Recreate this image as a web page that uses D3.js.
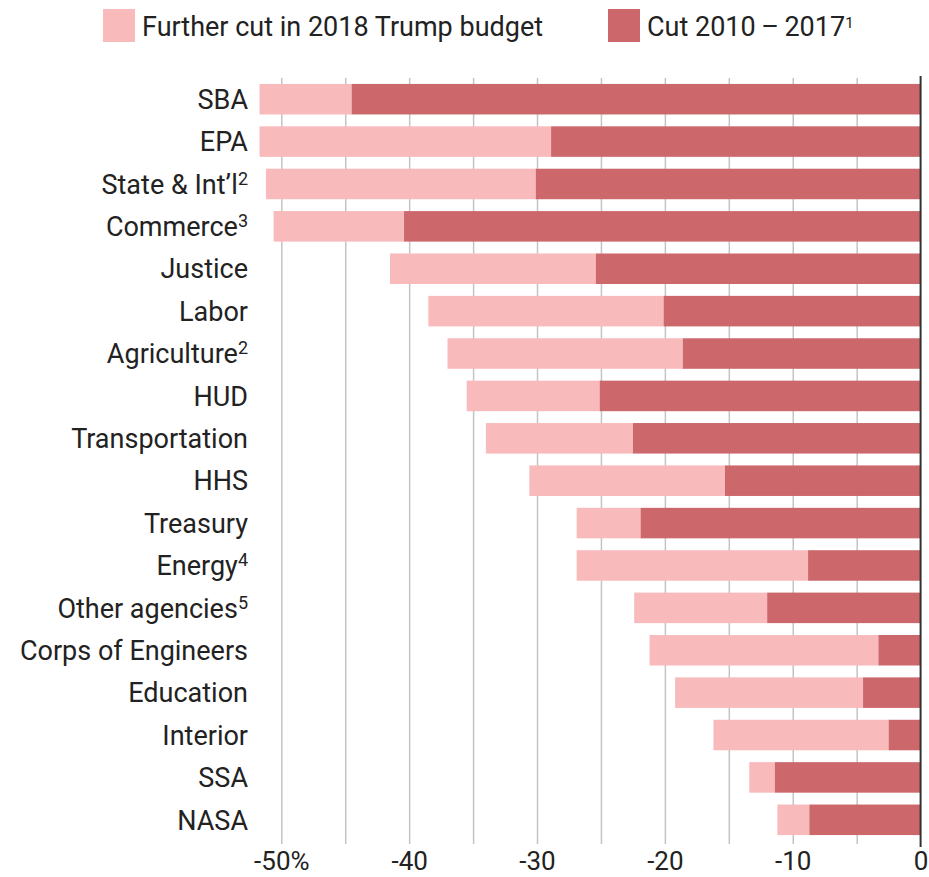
<!DOCTYPE html>
<html>
<head>
<meta charset="utf-8">
<script src="https://cdn.jsdelivr.net/npm/d3@7"></script>
<style>
  body { margin: 0; background: #fff; }
  text { font-family: Roboto, "Noto Sans", sans-serif; fill: #222; }
</style>
</head>
<body>
<svg width="929" height="877"></svg>
<script>

// agencies, top to bottom
var categories = ["SBA", "EPA", "State & Int\u2019l", "Commerce", "Justice", "Labor", "Agriculture", "HUD",
  "Transportation", "HHS", "Treasury", "Energy", "Other agencies", "Corps of Engineers", "Education",
  "Interior", "SSA", "NASA"];
var notes = ["", "", "2", "3", "", "", "2", "", "", "", "", "4", "5", "", "", "", "", ""];

// percent change
var cut2010to2017 = [-44.5, -28.9, -30.1, -40.4, -25.4, -20.1, -18.6, -25.1, -22.5, -15.3, -21.9, -8.8,
  -12.0, -3.3, -4.5, -2.5, -11.4, -8.7];
var furtherCut2018 = [-7.2, -22.8, -21.1, -10.2, -16.1, -18.4, -18.4, -10.4, -11.5, -15.3, -5.0, -18.1,
  -10.4, -17.9, -14.7, -13.7, -2.0, -2.5];

var tickValues = [-50, -40, -30, -20, -10, 0];
var tickLabels = ["-50%", "-40", "-30", "-20", "-10", "0"];
var gridValues = [-50, -45, -40, -35, -30, -25, -20, -15, -10, -5];

var legendLabels = ["Further cut in 2018 Trump budget", "Cut 2010\u2009\u2013\u20092017"];
var legendNotes = ["", "1"];

var light = "#f9babc", dark = "#cc676b";

var svg = d3.select("svg"),
  plotTop = 78, plotBottom = 841;

var x = d3.scaleLinear().domain([-50, 0]).range([281.3, 920.6]);
var y = d3.scaleBand().domain(categories).range([plotTop, plotBottom]).paddingInner(0.28).paddingOuter(0.14);

var data = categories.map(function(c, i) {
  return { name: c, note: notes[i], cut: cut2010to2017[i], further: furtherCut2018[i] };
});

// grid lines
svg.append("g")
  .attr("transform", "translate(0," + (plotBottom + 3) + ")")
  .call(d3.axisBottom(x).tickValues(gridValues).tickSize(-(plotBottom + 3 - plotTop)).tickFormat(""))
  .call(function(g) { g.select(".domain").remove(); })
  .selectAll("line")
  .attr("stroke", "#c4c4c4")
  .attr("stroke-width", 1.5);

var rows = svg.append("g").selectAll(".row")
  .data(data)
  .enter().append("g")
  .attr("class", "row");

// total (light) first, then 2010-2017 cut over it
rows.append("rect")
  .attr("x", function(d) { return x(d.cut + d.further); })
  .attr("y", function(d) { return y(d.name); })
  .attr("width", function(d) { return x(d.cut) - x(d.cut + d.further); })
  .attr("height", y.bandwidth())
  .attr("fill", light);

rows.append("rect")
  .attr("x", function(d) { return x(d.cut); })
  .attr("y", function(d) { return y(d.name); })
  .attr("width", function(d) { return x(0) - x(d.cut); })
  .attr("height", y.bandwidth())
  .attr("fill", dark);

// zero line
svg.append("line")
  .attr("x1", x(0)).attr("x2", x(0))
  .attr("y1", plotTop - 2).attr("y2", plotBottom + 6)
  .attr("stroke", "#333")
  .attr("stroke-width", 2);

// category labels
var lab = rows.append("text")
  .attr("x", 248)
  .attr("y", function(d) { return y(d.name) + y.bandwidth() / 2; })
  .attr("dy", "0.36em")
  .attr("text-anchor", "end")
  .style("font-size", "27px");
lab.append("tspan").text(function(d) { return d.name; });
lab.append("tspan")
  .attr("dy", "-0.5em")
  .style("font-size", "18px")
  .text(function(d) { return d.note; });

// x tick labels
svg.append("g")
  .attr("transform", "translate(0," + (plotBottom + 5) + ")")
  .call(d3.axisBottom(x).tickValues(tickValues).tickSize(0).tickPadding(6)
    .tickFormat(function(d, i) { return tickLabels[i]; }))
  .call(function(g) { g.select(".domain").remove(); })
  .selectAll("text")
  .style("font-size", "26px")
  .style("font-family", "Roboto, sans-serif")
  .attr("fill", "#222");

// legend
var legendX = [103, 608];
var legend = svg.append("g").selectAll(".leg")
  .data(legendLabels)
  .enter().append("g")
  .attr("transform", function(d, i) { return "translate(" + legendX[i] + ",9)"; });

legend.append("rect")
  .attr("width", 32)
  .attr("height", 33)
  .attr("fill", function(d, i) { return i == 0 ? light : dark; });

var lt = legend.append("text")
  .attr("x", 39)
  .attr("y", 17)
  .attr("dy", "0.36em")
  .style("font-size", "27px");
lt.append("tspan").text(function(d) { return d; });
lt.append("tspan")
  .attr("dy", "-0.5em")
  .style("font-size", "15px")
  .text(function(d, i) { return legendNotes[i]; });

</script>
</body>
</html>
